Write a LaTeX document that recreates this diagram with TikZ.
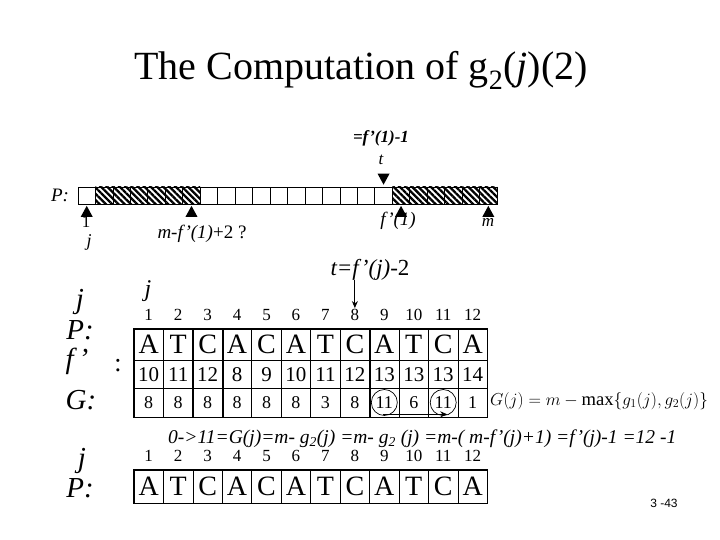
\documentclass[tikz,border=0pt]{standalone}
\usepackage{fontspec}
\setmainfont{Liberation Serif}
\newfontfamily\sansf{Liberation Sans}
\usetikzlibrary{patterns.meta,arrows.meta,calc}
\tikzset{
  pcell/.style={draw,line width=0.7pt,minimum width=17.46pt,minimum height=17pt,inner sep=0pt},
  hcell/.style={pcell,pattern={Lines[angle=-45,distance=4.4pt,line width=2.3pt]}},
  tcell/.style={draw,line width=0.7pt,minimum width=29.45pt,inner sep=0pt,text depth=0pt},
  lcell/.style={tcell,minimum height=31pt,text height=18.5pt,font=\fontsize{28}{29}\selectfont},
  fcell/.style={tcell,minimum height=28pt,text height=14.5pt,font=\fontsize{21}{22}\selectfont},
  gcell/.style={tcell,minimum height=29pt,text height=12.5pt,font=\fontsize{18}{19}\selectfont},
  bcell/.style={tcell,minimum height=33pt,text height=18.5pt,font=\fontsize{28}{29}\selectfont},
  colnum/.style={font=\fontsize{17}{18}\selectfont,inner sep=1pt},
  biglab/.style={font=\fontsize{29}{30}\selectfont\itshape,inner sep=0pt},
  smlab/.style={font=\fontsize{16}{18}\selectfont,inner sep=1pt},
  tri/.style={fill=black},
  arr/.style={-{Stealth[length=7pt,width=6pt]},line width=1pt},
  thick sep/.style={line width=1.7pt}
}
\begin{document}
\begin{tikzpicture}[x=1pt,y=-1pt]
\useasboundingbox (0,0) rectangle (720,540);
% title
\node[font=\fontsize{40}{44}\selectfont] (title) at (361,70) {The Computation of g\textsubscript{2}(\textit{j})(2)};

% top bar
\foreach \i in {1,...,24}{
  \pgfmathtruncatemacro{\h}{(\i>=2 && \i<=7) || (\i>=19) ? 1 : 0}
  \ifnum\h=1
    \node[hcell] (p\i) at ({78+(\i-0.5)*17.46},195.5) {};
  \else
    \node[pcell] (p\i) at ({78+(\i-0.5)*17.46},195.5) {};
  \fi
}
\node[smlab,font=\fontsize{19}{20}\selectfont\itshape] (Ptop) at (60,195) {P:};
% triangles
\foreach \k in {1,7,19,24}{
  \fill[tri] ($(p\k.south)+(0,1.5)$) -- ++(-6,11) -- ++(12,0) -- cycle;
}
\fill[tri] ($(p18.north)+(0,-2)$) -- ++(-6,-11) -- ++(12,0) -- cycle;
\node[smlab,font=\fontsize{17}{18}\selectfont\bfseries\itshape] (fm1) at (381,138) {=f'(1)-1};
\node[smlab,font=\fontsize{17}{18}\selectfont\itshape] (tlab) at (381,160) {t};
\node[smlab,font=\fontsize{17}{18}\selectfont,inner sep=0pt] (one) at (86,222) {1};
\node[smlab,font=\fontsize{18}{20}\selectfont\itshape,inner sep=0pt] (jtop) at (89,242) {j};
\node[smlab,font=\fontsize{19}{20}\selectfont] (mf) at (202,234) {\textit{m-f'(1)}+2 ?};
\node[smlab,font=\fontsize{19}{20}\selectfont\itshape] (f1) at (398,221) {f'(1)};
\node[smlab,font=\fontsize{17}{18}\selectfont\itshape] (mlab) at (488,222) {m};

% middle labels
\node[font=\fontsize{23}{24}\selectfont,inner sep=1pt] (teq) at (370,270) {\textit{t=f'(j)}-2};
\node[font=\fontsize{24}{26}\selectfont\itshape,inner sep=0pt] (jmid) at (148,291) {j};

% big table
\foreach \n in {1,...,12}{
  \node[colnum] (n\n) at ({134+(\n-0.5)*29.45},315) {\n};
}
\foreach \l [count=\i] in {A,T,C,A,C,A,T,C,A,T,C,A}{
  \node[lcell] (a\i) at ({134+(\i-0.5)*29.45},344.5) {\l};
}
\foreach \v [count=\i] in {10,11,12,8,9,10,11,12,13,13,13,14}{
  \node[fcell] (f\i) at ({134+(\i-0.5)*29.45},374) {\v};
}
\foreach \v [count=\i] in {8,8,8,8,8,8,3,8,11,6,11,1}{
  \node[gcell] (g\i) at ({134+(\i-0.5)*29.45},402.5) {\v};
}
\foreach \k in {2,3,8,9}{
  \draw[thick sep] (a\k.north east) -- (g\k.south east);
}
\draw[line width=1.2pt] (a1.north west) rectangle (g12.south east);
\coordinate (tarr) at (n8.north |- 0,280);
\draw[arr] (tarr) -- (n8.north);

% circles and arrow
\draw[line width=0.7pt] (g9) circle[radius=13];
\draw[line width=0.7pt] (g11) circle[radius=13];
\coordinate (arrs) at ($(g9.south)+(-1,-3)$);
\coordinate (arre) at ($(g11.south)+(4,-3)$);
\draw[arr] (arrs) -- (arre);

% left labels
\node[biglab] (jL) at (80,302) {j};
\node[biglab] (PL) at (80,330) {P:};
\node[biglab] (fL) at (77,361) {f\,'};
\node[font=\fontsize{26}{28}\selectfont,inner sep=0pt] (colon) at (118,366) {:};
\node[biglab] (GL) at (81,400) {G:};

% formula
\node[anchor=west,inner sep=0pt,font=\fontsize{18.6}{20}\selectfont] (Gform) at (490,401) {$G(j) = m - \max\{g_1(j), g_2(j)\}$};
\node[anchor=west,inner sep=0pt,font=\fontsize{19.5}{21}\selectfont\itshape] (line) at (168,439) {0->11=G(j)=m- g\textsubscript{2}(j) =m- g\textsubscript{2} (j) =m-( m-f'(j)+1) =f'(j)-1 =12 -1};

% bottom table
\foreach \n in {1,...,12}{
  \node[colnum] (bn\n) at ({134+(\n-0.5)*29.45},456) {\n};
}
\foreach \l [count=\i] in {A,T,C,A,C,A,T,C,A,T,C,A}{
  \node[bcell] (b\i) at ({134+(\i-0.5)*29.45},486.5) {\l};
}
\draw[line width=1.2pt] (b1.north west) rectangle (b12.south east);
\node[biglab] (jB) at (82,461) {j};
\node[biglab] (PB) at (80,488) {P:};

% page number
\node[font=\sansf\fontsize{12}{13}\selectfont,inner sep=0pt] (pg) at (664,503) {3 -43};
\end{tikzpicture}
\end{document}
